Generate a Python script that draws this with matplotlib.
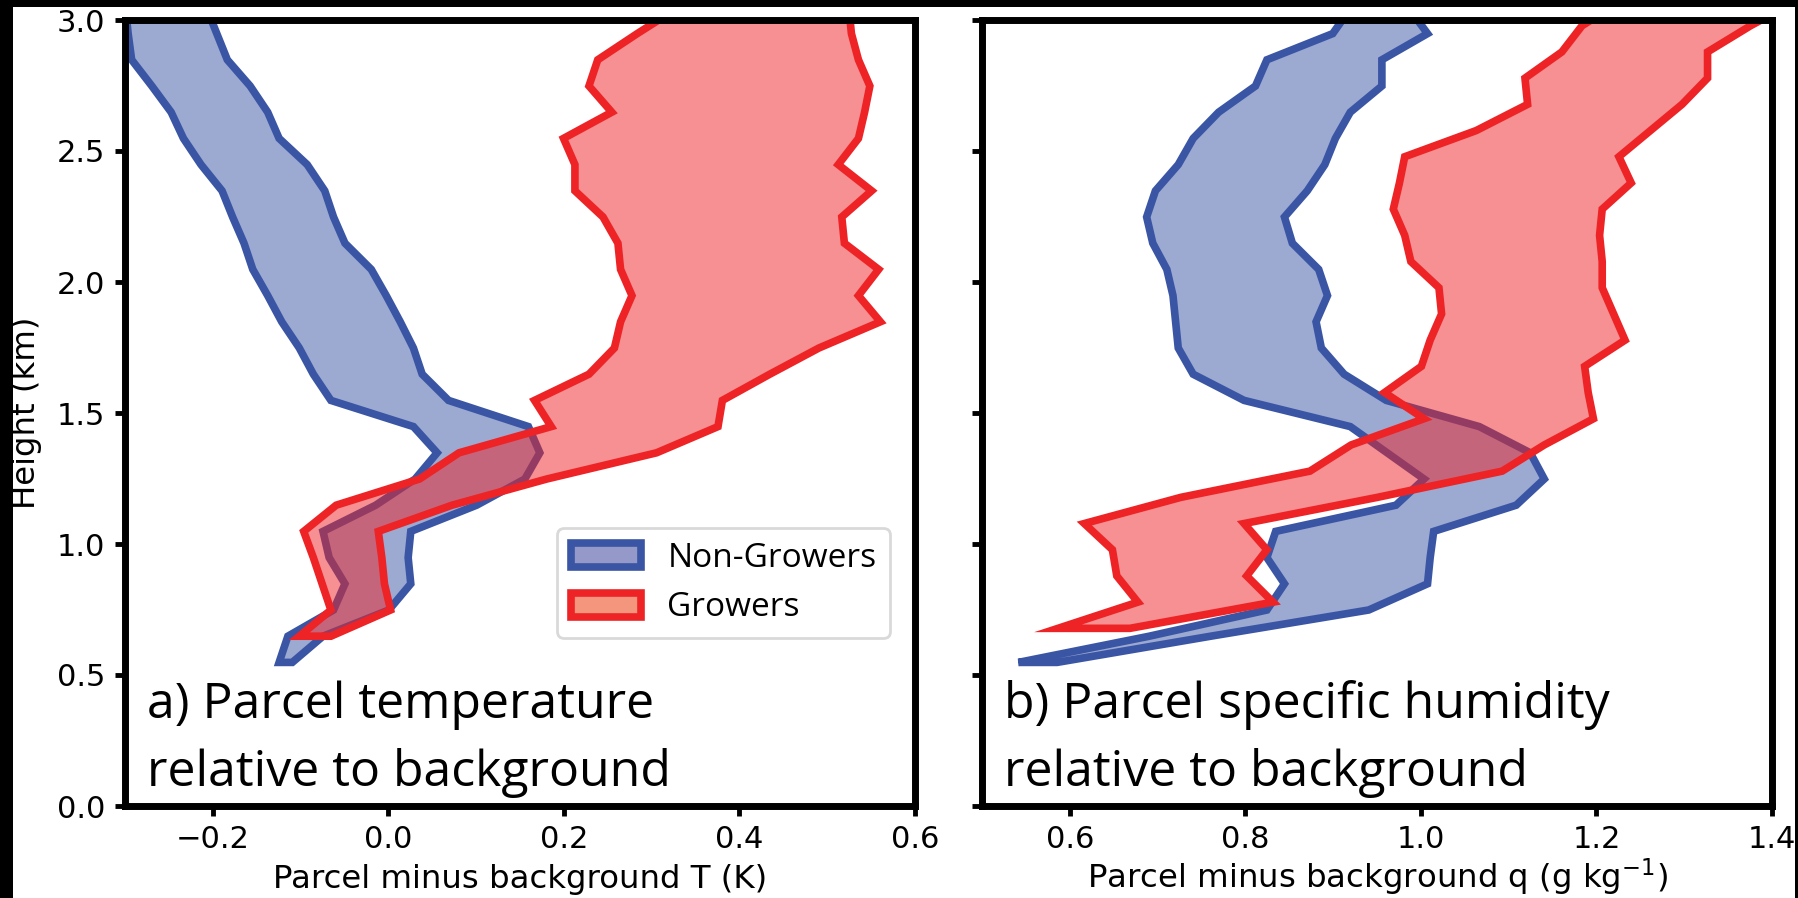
import matplotlib
matplotlib.use("Agg")
import matplotlib.pyplot as plt
from matplotlib.colors import to_rgba
from matplotlib.patches import Patch, Rectangle

BLUE = "#3a55a4"
RED = "#ee2326"

# Non-growers, temperature excess envelope (K) vs height (km)
hgt_ng_t = [0.55, 0.65, 0.75, 0.85, 0.95, 1.05, 1.15, 1.25, 1.35, 1.45, 1.55, 1.65, 1.75,
            1.85, 1.95, 2.05, 2.15, 2.25, 2.35, 2.45, 2.55, 2.65, 2.75, 2.85, 2.95, 3.05]
ng_t_lo = [-0.125, -0.115, -0.063, -0.05, -0.068, -0.075, -0.015, 0.03, 0.055, 0.028, -0.066,
           -0.086, -0.102, -0.122, -0.138, -0.155, -0.165, -0.178, -0.19, -0.214, -0.234,
           -0.248, -0.27, -0.293, -0.297, -0.30]
ng_t_hi = [-0.11, -0.075, 0.0, 0.025, 0.022, 0.025, 0.10, 0.155, 0.172, 0.159, 0.068, 0.038,
           0.028, 0.013, -0.003, -0.02, -0.05, -0.063, -0.073, -0.093, -0.125, -0.138,
           -0.158, -0.184, -0.196, -0.208]

# Growers, temperature excess envelope
hgt_gr_t = [0.65, 0.75, 0.85, 0.95, 1.05, 1.15, 1.25, 1.35, 1.45, 1.55, 1.65, 1.75, 1.85,
            1.95, 2.05, 2.15, 2.25, 2.35, 2.45, 2.55, 2.65, 2.75, 2.85, 2.95, 3.05]
gr_t_lo = [-0.102, -0.066, -0.076, -0.086, -0.097, -0.06, 0.035, 0.08, 0.185, 0.166, 0.228,
           0.257, 0.264, 0.277, 0.264, 0.261, 0.244, 0.212, 0.212, 0.199, 0.254, 0.228,
           0.238, 0.283, 0.33]
gr_t_hi = [-0.066, 0.002, -0.005, -0.008, -0.012, 0.072, 0.18, 0.305, 0.375, 0.38, 0.434,
           0.49, 0.56, 0.535, 0.558, 0.519, 0.516, 0.55, 0.512, 0.535, 0.542, 0.548, 0.535,
           0.527, 0.524]

# Non-growers, specific humidity excess envelope (g/kg)
hgt_ng_q = hgt_ng_t
ng_q_lo = [0.541, 0.69, 0.824, 0.844, 0.824, 0.834, 0.971, 1.003, 0.961, 0.919, 0.798, 0.74,
           0.723, 0.72, 0.717, 0.71, 0.694, 0.687, 0.697, 0.723, 0.74, 0.769, 0.811, 0.824,
           0.899, 0.92]
ng_q_hi = [0.585, 0.76, 0.94, 1.007, 1.01, 1.014, 1.108, 1.14, 1.124, 1.066, 0.96, 0.912,
           0.886, 0.88, 0.893, 0.883, 0.853, 0.844, 0.87, 0.89, 0.902, 0.919, 0.955, 0.955,
           1.007, 0.985]

# Growers, specific humidity excess envelope
hgt_gr_q = [0.68, 0.78, 0.88, 0.98, 1.08, 1.18, 1.28, 1.38, 1.48, 1.58, 1.68, 1.78, 1.88,
            1.98, 2.08, 2.18, 2.28, 2.38, 2.48, 2.58, 2.68, 2.78, 2.88, 2.98, 3.08]
gr_q_lo = [0.586, 0.677, 0.653, 0.648, 0.616, 0.726, 0.873, 0.92, 1.003, 0.958, 1.0, 1.01,
           1.023, 1.02, 0.988, 0.981, 0.968, 0.975, 0.981, 1.0625, 1.121, 1.118, 1.16, 1.183,
           1.23]
gr_q_hi = [0.668, 0.831, 0.801, 0.824, 0.798, 0.95, 1.092, 1.14, 1.196, 1.19, 1.186, 1.232,
           1.219, 1.206, 1.206, 1.203, 1.206, 1.239, 1.225, 1.261, 1.297, 1.326, 1.326, 1.375,
           1.43]

W, H = 1799, 898
fig = plt.figure(figsize=(W / 100, H / 100), dpi=100)
ax1 = fig.add_axes([125 / W, 1 - 806 / H, 790 / W, 786 / H])
ax2 = fig.add_axes([982 / W, 1 - 806 / H, 790 / W, 786 / H])


def envelope(ax, h, lo, hi, color):
    ax.fill_betweenx(h, lo, hi, facecolor=to_rgba(color, 0.5), edgecolor=color,
                     linewidth=5.5, joinstyle="miter")


envelope(ax1, hgt_ng_t, ng_t_lo, ng_t_hi, BLUE)
envelope(ax1, hgt_gr_t, gr_t_lo, gr_t_hi, RED)
envelope(ax2, hgt_ng_q, ng_q_lo, ng_q_hi, BLUE)
envelope(ax2, hgt_gr_q, gr_q_lo, gr_q_hi, RED)

ax1.set_xlim(-0.3, 0.6)
ax2.set_xlim(0.5, 1.4)
for ax in (ax1, ax2):
    ax.set_ylim(0, 3)
    ax.set_yticks([0, 0.5, 1.0, 1.5, 2.0, 2.5, 3.0])
    for s in ax.spines.values():
        s.set_linewidth(5)
    ax.tick_params(length=7, width=3.5, pad=7, labelsize=22)
ax2.tick_params(labelleft=False)

ax1.set_ylabel("Height (km)", fontsize=23.3)
ax1.yaxis.set_label_coords(-0.105, 0.5)
# both x labels share one baseline, whatever the superscript does to the box
ax1.set_xlabel("Parcel minus background T (K)", fontsize=23.3, va="baseline")
ax2.set_xlabel("Parcel minus background q (g kg$^{-1}$)", fontsize=23.3, va="baseline")
ax1.xaxis.set_label_coords(0.5, -0.1045)
ax2.xaxis.set_label_coords(0.5, -0.1045)

panel_font = dict(family="Open Sans", size=36)
for ax, first, second in [(ax1, "a) Parcel temperature", "relative to background"),
                          (ax2, "b) Parcel specific humidity", "relative to background")]:
    ax.text(0.028, 0.112, first, transform=ax.transAxes, va="baseline", **panel_font)
    ax.text(0.028, 0.025, second, transform=ax.transAxes, va="baseline", **panel_font)

handles = [Patch(facecolor="#9599c9", edgecolor=BLUE, linewidth=5.5, label="Non-Growers"),
           Patch(facecolor="#f4967d", edgecolor=RED, linewidth=5.5, label="Growers")]
leg = ax1.legend(handles=handles, loc="lower right", bbox_to_anchor=(0.968, 0.214),
                 borderaxespad=0, prop={"family": "Open Sans", "size": 24},
                 handlelength=2.1, handleheight=0.75, edgecolor="0.85", framealpha=1)
leg.get_frame().set_linewidth(2)

# dark border strips along the top and sides
for x0, y0, w, h in [(0, H - 7, W, 7), (0, 0, 13, H), (W - 4, 0, 4, H)]:
    fig.add_artist(Rectangle((x0 / W, y0 / H), w / W, h / H, transform=fig.transFigure,
                             facecolor="black", edgecolor="none", zorder=10))

fig.savefig("out.png", dpi=100)
